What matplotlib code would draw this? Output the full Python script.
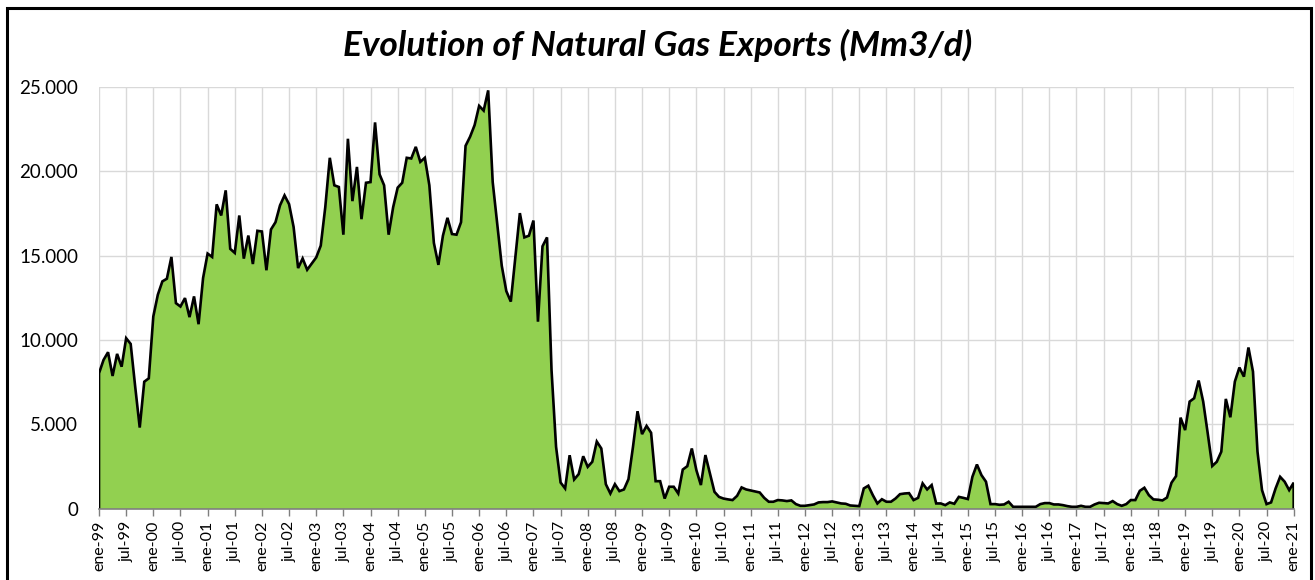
import matplotlib
matplotlib.use("Agg")
import matplotlib.pyplot as plt
import numpy as np
from matplotlib.ticker import FuncFormatter, MultipleLocator
from matplotlib.patches import Rectangle

plt.rcParams['font.family'] = ['Lato', 'DejaVu Sans']

# monthly exports, Mm3/d (values in thousands as on the axis)
y1999 = [8020, 8810, 9270, 7860, 9170, 8410, 10100, 9760, 7220, 4800, 7520, 7720]
y2000 = [11390, 12680, 13470, 13630, 14920, 12180, 11980, 12480, 11350, 12580, 10930, 13670]
y2001 = [15120, 14920, 18040, 17380, 18870, 15400, 15160, 17380, 14820, 16190, 14500, 16470]
y2002 = [16430, 14130, 16550, 16980, 17980, 18570, 18050, 16700, 14260, 14830, 14160, 14530]
y2003 = [14890, 15590, 17870, 20800, 19170, 19070, 16240, 21930, 18230, 20260, 17160, 19320]
y2004 = [19360, 22900, 19820, 19170, 16240, 17870, 19030, 19320, 20800, 20760, 21450, 20560]
y2005 = [20800, 19170, 15750, 14450, 16180, 17240, 16280, 16240, 16980, 21510, 22050, 22740]
y2006 = [23880, 23600, 24800, 19360, 16880, 14400, 12900, 12270, 14890, 17520, 16080, 16180]
y2007 = [17080, 11080, 15550, 16080, 8200, 3660, 1540, 1190, 3160, 1720, 2040, 3100]
y2008 = [2470, 2770, 3970, 3560, 1440, 890, 1440, 1030, 1130, 1740, 3660, 5770]
y2009 = [4410, 4900, 4490, 1620, 1620, 590, 1290, 1290, 890, 2310, 2510, 3560]
y2010 = [2280, 1390, 3170, 2080, 990, 690, 590, 540, 500, 750, 1250, 1130]
y2011 = [1070, 1010, 950, 630, 400, 400, 500, 480, 440, 480, 260, 160]
y2012 = [160, 200, 240, 360, 380, 380, 420, 360, 300, 280, 180, 160]
y2013 = [140, 1190, 1350, 790, 300, 550, 400, 400, 590, 850, 890, 910]
y2014 = [500, 630, 1490, 1130, 1390, 300, 300, 200, 360, 280, 690, 630]
y2015 = [560, 1880, 2610, 1980, 1590, 260, 260, 220, 240, 400, 100, 100]
y2016 = [100, 100, 100, 100, 260, 320, 320, 240, 240, 200, 140, 100]
y2017 = [100, 160, 100, 100, 240, 340, 320, 300, 440, 260, 160, 260]
y2018 = [500, 500, 1050, 1230, 790, 540, 520, 480, 650, 1530, 1920, 5390]
y2019 = [4650, 6340, 6540, 7590, 6340, 4460, 2520, 2770, 3370, 6500, 5410, 7530]
y2020 = [8360, 7820, 9550, 8120, 3370, 1090, 260, 360, 1190, 1880, 1590, 1090]
y2021 = [1530]

exports = np.array(y1999 + y2000 + y2001 + y2002 + y2003 + y2004 + y2005 + y2006
                   + y2007 + y2008 + y2009 + y2010 + y2011 + y2012 + y2013 + y2014
                   + y2015 + y2016 + y2017 + y2018 + y2019 + y2020 + y2021)

years = list(range(1999, 2022))
tick_labels = []
for yr in years:
    tick_labels.append("ene-%02d" % (yr % 100))
    if yr < 2021:
        tick_labels.append("jul-%02d" % (yr % 100))

title = "Evolution of Natural Gas Exports (Mm3/d)"

W, H = 1315, 580
fig = plt.figure(figsize=(W / 100, H / 100), dpi=100)
ax = fig.add_axes([99 / W, (H - 508.5) / H, (1293.7 - 99) / W, (508.5 - 87) / H])

x = np.arange(len(exports))
ax.fill_between(x, 0, exports, color="#92D050", lw=0, zorder=2)
xs = np.concatenate([[x[0]], x, [x[-1]]])
ys = np.concatenate([[0], exports, [0]])
ax.plot(xs, ys, color="black", lw=1.9, zorder=3, solid_joinstyle="miter")

ax.set_xlim(0, len(exports) - 1)
ax.set_ylim(0, 25000)
ax.set_xticks(np.arange(0, len(exports), 6))
ax.set_xticklabels(tick_labels, rotation=90, fontsize=11.5)
ax.yaxis.set_major_locator(MultipleLocator(5000))
ax.yaxis.set_major_formatter(FuncFormatter(lambda v, p: f"{v:,.0f}".replace(",", ".")))
ax.tick_params(axis="y", length=0, pad=15, labelsize=13.5)
ax.tick_params(axis="x", length=5, width=1, color="#7f7f7f", pad=4)

ax.grid(True, color="#d9d9d9", lw=1, zorder=0)
ax.set_axisbelow(True)
for s in ["left", "right", "top"]:
    ax.spines[s].set_visible(False)
ax.spines["bottom"].set_color("#7f7f7f")
ax.spines["bottom"].set_linewidth(1.2)
ax.spines["bottom"].set_zorder(4)

fig.text(0.5, 1 - 45 / H, title, ha="center", va="center", fontsize=25.5,
         fontweight="bold", fontstyle="italic")

fig.patches.append(Rectangle((7 / W, -0.02), (1311 - 7) / W, 1.02 - 8 / H,
                             transform=fig.transFigure, fill=False,
                             edgecolor="black", lw=2.2))

fig.savefig("out.png", dpi=100)
